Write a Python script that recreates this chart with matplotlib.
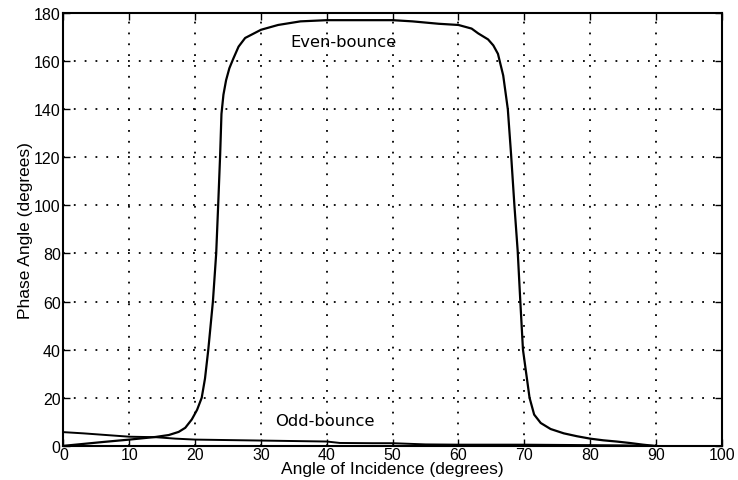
import matplotlib
matplotlib.use("Agg")
import matplotlib.pyplot as plt

# 偶次反射相位（度）
even_angle = [0, 3, 6, 10, 14, 16, 17.5, 18.5, 19.5, 20.3, 21.0, 21.5, 22.0, 22.7,
              23.2, 23.5, 23.8, 24.0, 24.3, 24.7, 25.2, 25.8, 26.6, 27.6, 30, 32.6,
              36, 40, 45, 50, 53, 57, 60, 62, 63, 64.5, 65.3, 66, 66.8, 67.5, 68,
              68.5, 69, 69.4, 69.8, 70.8, 71.5, 72.5, 74, 76, 78, 80, 82, 84,
              86, 88, 89.7]
even_phase = [0, 0.8, 1.6, 2.6, 3.7, 4.5, 5.8, 7.5, 11, 15, 20, 28, 40, 60,
              80, 100, 121, 138, 146, 152, 157, 161, 166, 169.6, 173, 175,
              176.5, 177, 177, 177, 176.5, 175.5, 175, 173.5, 171.5, 169, 166.5,
              163, 154, 140, 121, 100, 81, 60, 40, 20, 13, 9.5, 7, 5.2, 4, 3,
              2.3, 1.8, 1.2, 0.5, 0]

# 奇次反射相位（度）
odd_angle = [0, 3, 6, 10, 14, 17, 20, 25, 30, 35, 40, 42, 47, 50, 52, 55, 60,
             65, 70, 75, 80, 85, 90]
odd_phase = [5.7, 5.2, 4.6, 3.8, 3.6, 3.0, 2.6, 2.4, 2.2, 2.0, 1.8, 1.2, 1.1,
             1.1, 0.9, 0.6, 0.5, 0.5, 0.5, 0.4, 0.3, 0.2, 0]

x_ticks = list(range(0, 101, 10))
y_ticks = list(range(0, 181, 20))

plt.rcParams["font.family"] = ["Liberation Sans", "DejaVu Sans"]

fig = plt.figure(figsize=(7.38, 4.81), dpi=100)
ax = fig.add_axes([0.086, 0.071, 0.892, 0.9])

ax.plot(even_angle, even_phase, color="black", lw=1.6)
ax.plot(odd_angle, odd_phase, color="black", lw=1.4)

ax.text(34.5, 168, "Even-bounce", fontsize=11.8, family="DejaVu Sans",
        va="center", ha="left")
ax.text(32.2, 10.5, "Odd-bounce", fontsize=11.8, family="DejaVu Sans",
        va="center", ha="left")

ax.set_xlim(0, 100)
ax.set_ylim(0, 180)
ax.set_xticks(x_ticks)
ax.set_yticks(y_ticks)
ax.tick_params(direction="in", length=5, width=1, labelsize=11.5, pad=2,
               top=True, right=True)
ax.tick_params(axis="x", pad=1)
ax.grid(True, color="black", linestyle=(0, (1, 5)), linewidth=1.3)
for sp in ax.spines.values():
    sp.set_linewidth(1.5)

ax.set_xlabel("Angle of Incidence (degrees)", fontsize=12.5, labelpad=-1)
ax.set_ylabel("Phase Angle (degrees)", fontsize=12.5, labelpad=1)

fig.savefig("out.png", dpi=100)
